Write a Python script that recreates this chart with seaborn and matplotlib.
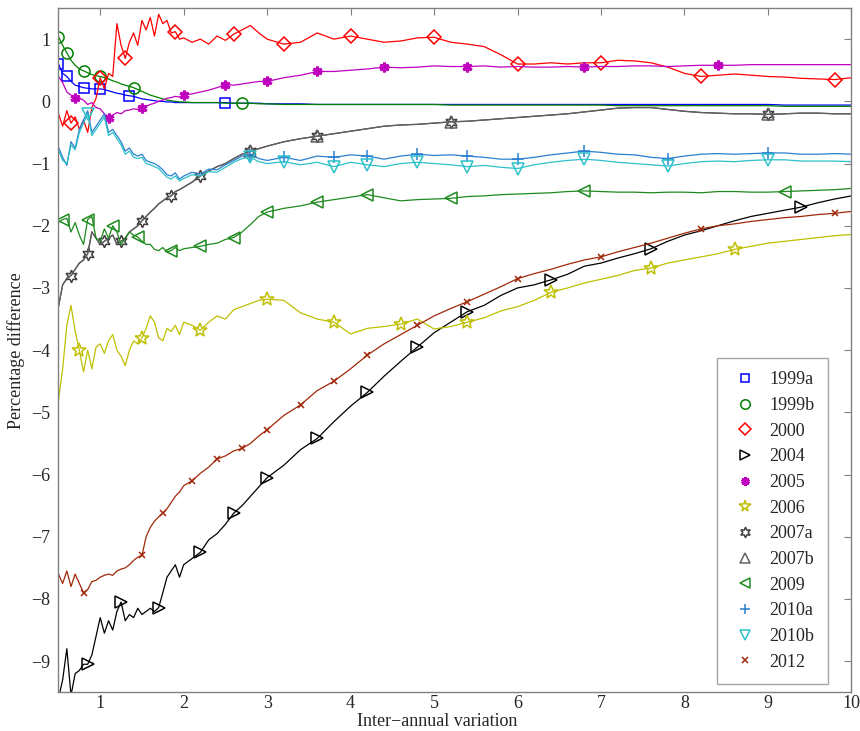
import numpy as np
import matplotlib
matplotlib.use("Agg")
import matplotlib.pyplot as plt
from matplotlib.lines import Line2D
import seaborn as sns

# --------------------------
# Data
# --------------------------
x_grid = [0.50, 0.55, 0.60, 0.65, 0.70, 0.75, 0.80, 0.85, 0.90, 0.95,
          1.00, 1.05, 1.10, 1.15, 1.20, 1.25, 1.30, 1.35, 1.40, 1.45,
          1.50, 1.55, 1.60, 1.65, 1.70, 1.75, 1.80, 1.85, 1.90, 1.95, 2.00,
          2.10, 2.20, 2.30, 2.40, 2.50, 2.60, 2.70, 2.80, 2.90, 3.00,
          3.20, 3.40, 3.60, 3.80, 4.00, 4.20, 4.40, 4.60, 4.80, 5.00,
          5.20, 5.40, 5.60, 5.80, 6.00, 6.20, 6.40, 6.60, 6.80, 7.00,
          7.20, 7.40, 7.60, 7.80, 8.00, 8.20, 8.40, 8.60, 8.80, 9.00,
          9.20, 9.40, 9.60, 9.80, 10.00]

y_1999a = [0.60, 0.45, 0.40, 0.32, 0.26, 0.24, 0.22, 0.21, 0.20, 0.20,
           0.20, 0.19, 0.17, 0.15, 0.13, 0.12, 0.10, 0.09, 0.08, 0.06,
           0.04, 0.03, 0.02, 0.01, 0.00, 0.00, -0.01, -0.01, -0.02, -0.02, -0.02,
           -0.02, -0.02, -0.02, -0.02, -0.02, -0.03, -0.03, -0.03, -0.03, -0.04,
           -0.04, -0.04, -0.05, -0.05, -0.05, -0.05, -0.05, -0.05, -0.05, -0.05,
           -0.05, -0.05, -0.05, -0.05, -0.05, -0.05, -0.05, -0.05, -0.05, -0.05,
           -0.05, -0.05, -0.05, -0.05, -0.05, -0.05, -0.05, -0.05, -0.05, -0.05,
           -0.06, -0.06, -0.06, -0.06, -0.06]
y_1999b = [1.04, 0.90, 0.78, 0.66, 0.58, 0.52, 0.49, 0.46, 0.43, 0.41,
           0.40, 0.38, 0.36, 0.33, 0.31, 0.28, 0.26, 0.24, 0.22, 0.19,
           0.16, 0.13, 0.10, 0.08, 0.06, 0.04, 0.02, 0.01, 0.00, -0.01, -0.01,
           -0.02, -0.02, -0.02, -0.02, -0.03, -0.03, -0.03, -0.03, -0.04, -0.04,
           -0.05, -0.05, -0.05, -0.05, -0.05, -0.05, -0.05, -0.05, -0.05, -0.05,
           -0.06, -0.06, -0.06, -0.06, -0.06, -0.06, -0.06, -0.06, -0.06, -0.06,
           -0.07, -0.07, -0.07, -0.07, -0.07, -0.07, -0.07, -0.07, -0.07, -0.07,
           -0.08, -0.08, -0.08, -0.08, -0.08]
y_2000 = [-0.20, -0.40, -0.15, -0.35, -0.25, -0.45, -0.30, -0.50, -0.10, 0.05,
          0.38, 0.20, 0.45, 0.40, 1.25, 0.90, 0.69, 0.95, 1.10, 0.90,
          1.30, 1.15, 1.35, 1.05, 1.40, 1.25, 1.30, 1.10, 1.12, 1.00, 1.02,
          0.95, 1.00, 0.92, 1.05, 0.98, 1.08, 1.15, 1.22, 1.10, 1.00,
          0.92, 0.95, 1.10, 1.00, 1.05, 1.00, 0.95, 0.97, 1.02, 1.03,
          0.95, 0.92, 0.88, 0.75, 0.60, 0.60, 0.62, 0.60, 0.62, 0.62,
          0.66, 0.65, 0.62, 0.55, 0.45, 0.40, 0.42, 0.44, 0.42, 0.40,
          0.39, 0.37, 0.36, 0.35, 0.38]
y_2004 = [-9.60, -9.30, -8.80, -9.55, -9.20, -9.15, -9.05, -9.05, -8.90, -8.60,
          -8.30, -8.55, -8.35, -8.50, -8.20, -8.05, -8.35, -8.25, -8.30, -8.15,
          -8.25, -8.20, -8.15, -8.20, -8.14, -7.90, -7.65, -7.55, -7.45, -7.65, -7.45,
          -7.35, -7.25, -7.05, -6.95, -6.80, -6.62, -6.50, -6.35, -6.20, -6.05,
          -5.85, -5.60, -5.42, -5.15, -4.90, -4.68, -4.42, -4.18, -3.95, -3.72,
          -3.55, -3.38, -3.28, -3.12, -3.00, -2.95, -2.87, -2.78, -2.65, -2.60,
          -2.52, -2.45, -2.37, -2.25, -2.15, -2.08, -2.00, -1.92, -1.85, -1.80,
          -1.75, -1.70, -1.63, -1.57, -1.52]
y_2005 = [0.40, 0.30, 0.15, 0.10, 0.06, 0.05, 0.02, -0.05, -0.02, -0.10,
          -0.12, -0.20, -0.26, -0.22, -0.18, -0.20, -0.15, -0.14, -0.12, -0.13,
          -0.10, -0.08, -0.05, -0.03, 0.00, 0.02, 0.05, 0.06, 0.08, 0.07, 0.10,
          0.12, 0.15, 0.18, 0.22, 0.27, 0.26, 0.28, 0.30, 0.32, 0.32,
          0.38, 0.42, 0.48, 0.48, 0.50, 0.52, 0.55, 0.54, 0.55, 0.57,
          0.56, 0.56, 0.57, 0.55, 0.56, 0.55, 0.55, 0.56, 0.55, 0.56,
          0.56, 0.57, 0.57, 0.56, 0.57, 0.58, 0.58, 0.58, 0.59, 0.59,
          0.59, 0.59, 0.59, 0.59, 0.59]
y_2006 = [-4.80, -4.30, -3.60, -3.28, -3.70, -4.00, -4.35, -4.00, -4.30, -3.95,
          -3.90, -4.05, -3.85, -3.75, -4.00, -4.10, -4.25, -4.00, -3.85, -3.90,
          -3.80, -3.65, -3.45, -3.55, -3.80, -3.85, -3.65, -3.70, -3.60, -3.75, -3.55,
          -3.60, -3.68, -3.55, -3.45, -3.50, -3.35, -3.30, -3.25, -3.20, -3.18,
          -3.20, -3.40, -3.50, -3.55, -3.74, -3.65, -3.62, -3.58, -3.50, -3.66,
          -3.62, -3.55, -3.48, -3.37, -3.30, -3.20, -3.07, -3.00, -2.92, -2.86,
          -2.80, -2.72, -2.68, -2.60, -2.55, -2.50, -2.45, -2.38, -2.33, -2.28,
          -2.25, -2.22, -2.19, -2.16, -2.14]
y_2007a = [-3.30, -2.95, -2.85, -2.80, -2.70, -2.60, -2.55, -2.45, -2.10, -2.20,
           -2.30, -2.25, -2.20, -2.15, -2.30, -2.25, -2.20, -2.10, -2.05, -2.00,
           -1.92, -1.85, -1.78, -1.72, -1.65, -1.60, -1.55, -1.52, -1.45, -1.42, -1.38,
           -1.30, -1.20, -1.12, -1.05, -1.00, -0.92, -0.85, -0.80, -0.76, -0.72,
           -0.65, -0.60, -0.56, -0.52, -0.48, -0.44, -0.40, -0.38, -0.37, -0.35,
           -0.33, -0.32, -0.30, -0.28, -0.26, -0.24, -0.22, -0.20, -0.17, -0.14,
           -0.11, -0.10, -0.10, -0.13, -0.16, -0.18, -0.19, -0.20, -0.20, -0.21,
           -0.20, -0.19, -0.19, -0.20, -0.20]
y_2007b = [-3.30, -2.95, -2.85, -2.80, -2.70, -2.60, -2.55, -2.45, -2.10, -2.20,
           -2.30, -2.25, -2.20, -2.15, -2.30, -2.25, -2.20, -2.10, -2.05, -2.00,
           -1.92, -1.85, -1.78, -1.72, -1.65, -1.60, -1.55, -1.52, -1.45, -1.42, -1.38,
           -1.30, -1.20, -1.12, -1.05, -1.00, -0.92, -0.85, -0.80, -0.76, -0.72,
           -0.65, -0.60, -0.56, -0.52, -0.48, -0.44, -0.40, -0.38, -0.37, -0.35,
           -0.33, -0.32, -0.30, -0.28, -0.26, -0.24, -0.22, -0.20, -0.17, -0.14,
           -0.11, -0.10, -0.10, -0.13, -0.16, -0.18, -0.19, -0.20, -0.20, -0.21,
           -0.20, -0.19, -0.19, -0.20, -0.20]
y_2009 = [-1.95, -1.90, -1.88, -2.10, -1.95, -2.15, -2.30, -1.90, -1.85, -2.20,
          -2.25, -2.05, -2.20, -2.00, -2.10, -2.30, -2.20, -2.10, -2.15, -2.18,
          -2.25, -2.30, -2.30, -2.38, -2.40, -2.35, -2.42, -2.40, -2.35, -2.40, -2.37,
          -2.35, -2.33, -2.30, -2.28, -2.22, -2.19, -2.10, -1.98, -1.85, -1.78,
          -1.72, -1.68, -1.62, -1.58, -1.54, -1.50, -1.55, -1.60, -1.58, -1.57,
          -1.56, -1.53, -1.52, -1.50, -1.49, -1.48, -1.47, -1.45, -1.44, -1.45,
          -1.46, -1.46, -1.47, -1.46, -1.46, -1.47, -1.45, -1.45, -1.46, -1.46,
          -1.45, -1.44, -1.43, -1.42, -1.40]
y_2010a = [-0.74, -0.90, -1.03, -0.65, -0.75, -0.45, -0.30, -0.15, -0.50, -0.40,
           -0.30, -0.20, -0.50, -0.45, -0.55, -0.65, -0.80, -0.75, -0.85, -0.88,
           -0.85, -0.95, -0.98, -1.00, -1.04, -1.10, -1.18, -1.20, -1.15, -1.25, -1.20,
           -1.14, -1.17, -1.09, -1.10, -1.02, -0.95, -0.88, -0.86, -0.92, -0.95,
           -0.90, -0.95, -0.88, -0.90, -0.86, -0.88, -0.93, -0.88, -0.85, -0.87,
           -0.86, -0.88, -0.90, -0.93, -0.93, -0.90, -0.86, -0.83, -0.80, -0.82,
           -0.85, -0.86, -0.90, -0.92, -0.88, -0.85, -0.84, -0.85, -0.84, -0.83,
           -0.83, -0.85, -0.85, -0.84, -0.85]
y_2010b = [-0.78, -0.95, -1.00, -0.70, -0.78, -0.50, -0.35, -0.20, -0.55, -0.45,
           -0.35, -0.25, -0.55, -0.50, -0.60, -0.70, -0.85, -0.80, -0.90, -0.92,
           -0.90, -1.00, -1.02, -1.05, -1.08, -1.15, -1.22, -1.25, -1.20, -1.28, -1.24,
           -1.18, -1.20, -1.13, -1.14, -1.06, -0.98, -0.92, -0.90, -0.97, -1.00,
           -0.97, -1.02, -0.98, -1.05, -0.98, -1.02, -1.05, -1.00, -0.98, -1.00,
           -1.02, -1.05, -1.03, -1.06, -1.08, -1.02, -0.98, -0.95, -0.93, -0.95,
           -0.98, -1.00, -1.02, -1.04, -1.00, -0.97, -0.96, -0.97, -0.95, -0.94,
           -0.94, -0.96, -0.96, -0.96, -0.97]
y_2012 = [-7.60, -7.75, -7.55, -7.80, -7.60, -7.75, -7.90, -7.85, -7.72, -7.70,
          -7.65, -7.62, -7.60, -7.62, -7.55, -7.52, -7.50, -7.45, -7.38, -7.33,
          -7.30, -7.00, -6.85, -6.75, -6.68, -6.62, -6.55, -6.45, -6.35, -6.28, -6.18,
          -6.10, -5.98, -5.88, -5.75, -5.70, -5.62, -5.58, -5.50, -5.38, -5.28,
          -5.05, -4.88, -4.65, -4.50, -4.30, -4.08, -3.90, -3.75, -3.60, -3.45,
          -3.33, -3.22, -3.10, -2.98, -2.85, -2.77, -2.70, -2.62, -2.55, -2.50,
          -2.42, -2.35, -2.28, -2.20, -2.12, -2.05, -2.00, -1.97, -1.93, -1.90,
          -1.87, -1.85, -1.82, -1.80, -1.77]

# x positions where each series shows a marker
marks_1999a = [0.5, 0.6, 0.8, 1.0, 1.35, 2.5]
marks_1999b = [0.5, 0.6, 0.8, 1.0, 1.4, 2.7]
marks_2000 = [0.65, 1.0, 1.3, 1.9, 2.6, 3.2, 4.0, 5.0, 6.0, 7.0, 8.2, 9.8]
marks_2004 = [0.85, 1.25, 1.7, 2.2, 2.6, 3.0, 3.6, 4.2, 4.8, 5.4, 6.4, 7.6, 9.4]
marks_2005 = [0.7, 1.1, 1.5, 2.0, 2.5, 3.0, 3.6, 4.4, 5.4, 6.8, 8.4]
marks_2006 = [0.75, 1.5, 2.2, 3.0, 3.8, 4.6, 5.4, 6.4, 7.6, 8.6]
marks_2007a = [0.65, 0.85, 1.05, 1.25, 1.5, 1.85, 2.2, 2.8, 3.6, 5.2, 9.0]
marks_2007b = [2.8, 3.6, 5.2, 9.0]
marks_2009 = [0.55, 0.85, 1.15, 1.45, 1.85, 2.2, 2.6, 3.0, 3.6, 4.2, 5.2, 6.8, 9.2]
marks_2010a = [2.8, 3.2, 3.8, 4.2, 4.8, 5.4, 6.0, 6.8, 7.8, 9.0]
marks_2010b = [0.85, 2.8, 3.2, 3.8, 4.2, 4.8, 5.4, 6.0, 6.8, 7.8, 9.0]
marks_2012 = [0.8, 1.5, 1.75, 2.1, 2.4, 2.7, 3.0, 3.4, 3.8, 4.2, 4.8, 5.4, 6.0, 7.0, 8.2, 9.8]

# --------------------------
# Styles
# --------------------------
series = [
    # label, y, marks, color, marker, size, filled
    ("1999a", y_1999a, marks_1999a, "#0000ff", "s", 6.5, False),
    ("1999b", y_1999b, marks_1999b, "#008000", "o", 8, False),
    ("2000", y_2000, marks_2000, "#ff0000", "D", 7.5, False),
    ("2004", y_2004, marks_2004, "#000000", ">", 8, False),
    ("2005", y_2005, marks_2005, "#bf00bf", (6, 2, 0), 7, True),
    ("2006", y_2006, marks_2006, "#bfbf00", "*", 10, False),
    ("2007a", y_2007a, marks_2007a, "#404040", (6, 1, 0), 9, False),
    ("2007b", y_2007b, marks_2007b, "#606060", "^", 8, False),
    ("2009", y_2009, marks_2009, "#1e8a1e", "<", 8, False),
    ("2010a", y_2010a, marks_2010a, "#2a7fd0", "+", 8, False),
    ("2010b", y_2010b, marks_2010b, "#2cc0c8", "v", 8, False),
    ("2012", y_2012, marks_2012, "#a02808", "x", 5, False),
]

sns.set_style("white")
plt.rcParams["font.family"] = ["Liberation Serif", "DejaVu Serif"]

x = np.array(x_grid)
fig = plt.figure(figsize=(8.6, 7.31), dpi=100)
ax = fig.add_axes([0.068, 0.053, 0.922, 0.936])

handles = []
for label, yv, marks, color, marker, ms, filled in series:
    idx = [int(np.argmin(np.abs(x - m))) for m in marks]
    face = color if filled else "none"
    mew = 2.2 if filled else 1.1
    sns.lineplot(x=x, y=np.array(yv), ax=ax, color=color, linewidth=0.9,
                 marker=marker, markevery=idx, markersize=ms,
                 markerfacecolor=face, markeredgecolor=color,
                 markeredgewidth=mew, estimator=None, sort=False, legend=False)
    handles.append(Line2D([], [], linestyle="none", marker=marker, markersize=ms * 0.85,
                          markerfacecolor=face, markeredgecolor=color,
                          markeredgewidth=mew, label=label))

ax.set_xlim(0.5, 10)
ax.set_ylim(-9.5, 1.5)
ax.set_xticks(range(1, 11))
ax.set_yticks(range(-9, 2))
ax.tick_params(direction="in", length=5, color="#808080", labelsize=13,
               top=True, right=True)
ax.tick_params(axis="x", pad=2)
ax.tick_params(axis="y", pad=6)
for sp in ax.spines.values():
    sp.set_color("#808080")
    sp.set_linewidth(1.0)

ax.set_xlabel("Inter\u2212annual variation", fontsize=13)
ax.xaxis.set_label_coords(0.478, -0.031)
ax.set_ylabel("Percentage difference", fontsize=13, labelpad=4)

leg = ax.legend(handles=handles, loc="lower right", bbox_to_anchor=(0.97, 0.012),
                fontsize=13, labelspacing=0.48, handletextpad=0.6, handlelength=1.5,
                borderpad=0.75, borderaxespad=0, frameon=True, fancybox=False,
                edgecolor="#909090")
leg.get_frame().set_linewidth(1.0)

plt.savefig("out.png", dpi=100)
